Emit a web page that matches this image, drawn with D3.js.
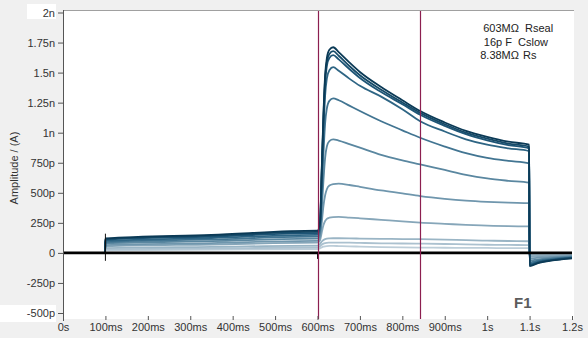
<!DOCTYPE html>
<html>
<head>
<meta charset="utf-8">
<script src="https://cdn.jsdelivr.net/npm/d3@7"></script>
<style>
  body { margin: 0; background: #f0f0f0; }
  svg { display: block; font-family: "Liberation Sans", Arial, sans-serif; }
</style>
</head>
<body>
<div id="chart"></div>
<script>
// sweep sample times (ms) and currents (pA)
const times = [0, 99, 100, 350, 599, 600, 606, 610, 614, 618, 622, 628, 637, 650, 675, 700, 750, 800, 842, 900, 950, 1000, 1050, 1099, 1100, 1120, 1150, 1200]

const sweeps = [
  [0, 0, 22, 27, 32, 32, 38, 46, 52, 55, 57, 58, 58, 57, 55, 52, 48, 46, 44, 43, 42, 41, 40, 40, -12, -12, -13, -15],
  [0, 0, 30, 37, 45, 45, 55, 68, 77, 82, 84, 85, 86, 86, 85, 83, 80, 78, 77, 74, 71, 68, 66, 65, -16, -15, -15, -16],
  [0, 0, 40, 50, 60, 60, 75, 95, 108, 115, 119, 121, 122, 122, 121, 119, 117, 115, 114, 110, 106, 102, 99, 97, -20, -19, -18, -18],
  [0, 0, 55, 70, 85, 85, 105, 170, 230, 265, 283, 293, 298, 299, 294, 288, 275, 262, 252, 242, 233, 227, 222, 220, -32, -28, -25, -22],
  [0, 0, 65, 82, 100, 100, 130, 250, 390, 480, 530, 560, 572, 576, 565, 550, 520, 495, 473, 450, 435, 425, 418, 414, -48, -40, -34, -27],
  [0, 0, 80, 98, 118, 118, 160, 360, 600, 790, 885, 930, 944, 935, 905, 875, 815, 770, 737, 690, 650, 620, 600, 584, -65, -53, -43, -32],
  [0, 0, 90, 112, 135, 135, 190, 480, 820, 1080, 1200, 1265, 1285, 1270, 1225, 1180, 1095, 1020, 958, 885, 830, 790, 765, 745, -80, -64, -50, -36],
  [0, 0, 100, 124, 150, 150, 220, 600, 1000, 1310, 1450, 1520, 1545, 1515, 1450, 1390, 1300, 1195, 1096, 1010, 945, 900, 870, 847, -92, -72, -56, -40],
  [0, 0, 110, 136, 165, 165, 240, 660, 1090, 1415, 1555, 1622, 1645, 1610, 1530, 1455, 1338, 1237, 1150, 1057, 988, 937, 897, 870, -100, -78, -60, -42],
  [0, 0, 115, 143, 175, 175, 250, 680, 1120, 1450, 1590, 1655, 1678, 1640, 1555, 1478, 1358, 1252, 1165, 1070, 1000, 950, 910, 885, -105, -82, -62, -43],
  [0, 0, 120, 150, 185, 185, 260, 700, 1150, 1480, 1620, 1690, 1711, 1670, 1585, 1505, 1380, 1270, 1180, 1085, 1015, 965, 925, 900, -110, -85, -65, -45]
]
const sweepColors = ['#bccdd8', '#abc1cf', '#9ab5c5', '#86a6b9', '#6f96ad', '#5a87a0', '#427592', '#2e6584', '#1e5576', '#154a68', '#0b3a56']

// holding sweep (flat at 0) and its capacitive transients
const baseTimes = [0, 1200]
const baseValues = [0, 0]
const transientTimes = [100, 600]
const transientHigh = [160, 0]
const transientLow = [-66, -50]

const cursorTimes = [600, 842]

const xTicks = [0, 100, 200, 300, 400, 500, 600, 700, 800, 900, 1000, 1100, 1200]
const xTickLabels = ['0s', '100ms', '200ms', '300ms', '400ms', '500ms', '600ms', '700ms', '800ms', '900ms', '1s', '1.1s', '1.2s']
const yTicks = [2000, 1750, 1500, 1250, 1000, 750, 500, 250, 0, -250, -500]
const yTickLabels = ['2n', '1.75n', '1.5n', '1.25n', '1n', '750p', '500p', '250p', '0', '-250p', '-500p']

const legendValues = ['603MΩ', '16p F', '8.38MΩ']
const legendNames = ['Rseal', 'Cslow', 'Rs']

const svgWidth = 588, svgHeight = 338
const plot = {left: 63, right: 574, top: 10, bottom: 319}

const svg = d3.select('#chart').append('svg')
    .attr('width', svgWidth)
    .attr('height', svgHeight)

svg.append('rect')
    .attr('width', svgWidth).attr('height', svgHeight)
    .attr('fill', '#f0f0f0')

// plot area
svg.append('rect')
    .attr('x', plot.left).attr('y', plot.top)
    .attr('width', plot.right - plot.left).attr('height', plot.bottom - plot.top)
    .attr('fill', '#fff')
svg.append('line')
    .attr('x1', plot.left).attr('x2', plot.right)
    .attr('y1', plot.top + 0.5).attr('y2', plot.top + 0.5)
    .attr('stroke', '#a0a0a0')

// white boxes behind the end labels
svg.append('rect').attr('x', 27).attr('y', 4).attr('width', 29).attr('height', 15).attr('fill', '#fff')
svg.append('rect').attr('x', 0).attr('y', 305).attr('width', 56).attr('height', 17).attr('fill', '#fff')

const x = d3.scaleLinear().domain([0, 1200]).range([63, 572])
const y = d3.scaleLinear().domain([-500, 2000]).range([313, 12.5])

svg.append('clipPath').attr('id', 'clip')
    .append('rect')
    .attr('x', plot.left + 1).attr('y', plot.top + 1)
    .attr('width', plot.right - plot.left - 1).attr('height', plot.bottom - plot.top - 1)

const traces = svg.append('g').attr('clip-path', 'url(#clip)')

const line = d3.line()
    .x(d => x(d[0]))
    .y(d => y(d[1]))
    .curve(d3.curveMonotoneX)

sweeps.forEach((s, i) => {
    traces.append('path')
        .datum(times.map((t, j) => [t, s[j]]))
        .attr('d', line)
        .attr('fill', 'none')
        .attr('stroke', sweepColors[i])
        .attr('stroke-width', 1.8)
        .attr('stroke-linejoin', 'round')
})

traces.selectAll('.transient')
    .data(transientTimes)
    .enter()
    .append('line')
    .attr('class', 'transient')
    .attr('x1', d => x(d)).attr('x2', d => x(d))
    .attr('y1', (d, i) => y(transientHigh[i]))
    .attr('y2', (d, i) => y(transientLow[i]))
    .attr('stroke', '#111')
    .attr('stroke-width', 1)

traces.append('path')
    .datum(baseTimes.map((t, j) => [t, baseValues[j]]))
    .attr('d', d3.line().x(d => x(d[0])).y(d => y(d[1])))
    .attr('fill', 'none')
    .attr('stroke', '#000')
    .attr('stroke-width', 2.6)

// cursors
traces.selectAll('.cursor')
    .data(cursorTimes)
    .enter()
    .append('line')
    .attr('class', 'cursor')
    .attr('x1', d => Math.round(x(d)) + 0.5).attr('x2', d => Math.round(x(d)) + 0.5)
    .attr('y1', plot.top).attr('y2', plot.bottom)
    .attr('stroke', '#8c1f50')
    .attr('stroke-width', 1.2)

// axes
const yAxis = d3.axisLeft(y)
    .tickValues(yTicks)
    .tickFormat((d, i) => yTickLabels[i])
    .tickSize(5)
    .tickPadding(3)

const xAxis = d3.axisBottom(x)
    .tickValues(xTicks)
    .tickFormat((d, i) => xTickLabels[i])
    .tickSize(4)
    .tickPadding(3)

const gy = svg.append('g')
    .attr('transform', `translate(${plot.left}, 0)`)
    .call(yAxis)

const gx = svg.append('g')
    .attr('transform', 'translate(0, 316)')
    .call(xAxis)

;[gx, gy].forEach(g => {
    g.select('.domain').remove()
    g.selectAll('line').attr('stroke', '#555')
    g.selectAll('text').attr('fill', '#333').attr('font-size', 11).attr('font-family', '"Liberation Sans", Arial, sans-serif')
})

svg.append('line')
    .attr('x1', plot.left + 0.5).attr('x2', plot.left + 0.5)
    .attr('y1', plot.top).attr('y2', 321)
    .attr('stroke', '#555')

svg.append('text')
    .attr('transform', 'translate(18, 168) rotate(-90)')
    .attr('text-anchor', 'middle')
    .attr('font-size', 11)
    .attr('fill', '#333')
    .text('Amplitude / (A)')

// info box
const legendRows = [32, 46, 59]
const valueEnds = [519, 512, 519]
const nameStarts = [525, 518, 523]
legendValues.forEach((v, i) => {
    svg.append('text')
        .attr('x', valueEnds[i]).attr('y', legendRows[i])
        .attr('text-anchor', 'end')
        .attr('font-size', 11).attr('fill', '#222')
        .text(v)
    svg.append('text')
        .attr('x', nameStarts[i]).attr('y', legendRows[i])
        .attr('font-size', 11).attr('fill', '#222')
        .text(legendNames[i])
})

svg.append('text')
    .attr('x', 514).attr('y', 308)
    .attr('font-size', 15)
    .attr('font-weight', 'bold')
    .attr('fill', '#5c5c5c')
    .text('F1')
</script>
</body>
</html>
